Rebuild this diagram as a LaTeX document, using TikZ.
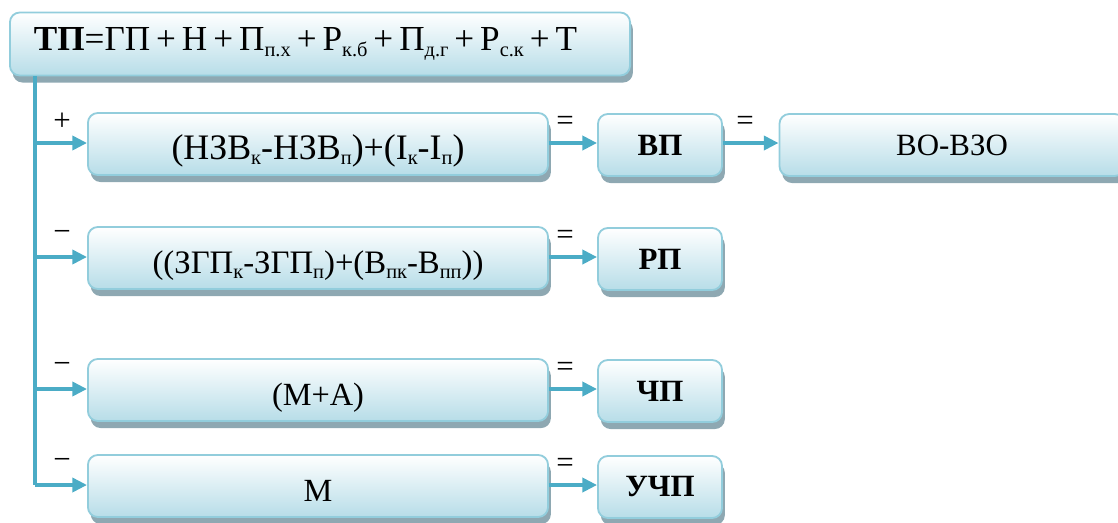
\documentclass[tikz,border=0pt]{standalone}
\usepackage{fontspec}
\setmainfont{Liberation Serif}
\usetikzlibrary{arrows.meta,shadows,positioning}
\definecolor{boxedge}{RGB}{146,205,220}
\definecolor{boxfill}{RGB}{183,221,232}
\definecolor{boxshade}{RGB}{142,168,178}
\definecolor{flowblue}{RGB}{75,172,198}

% small lowered index
\newcommand{\lo}[1]{\raisebox{-0.35ex}{\fontsize{14.5}{15}\selectfont #1}}

\tikzset{
  box/.style={draw=boxedge, line width=1.3pt, rounded corners=7pt,
    top color=white, bottom color=boxfill, minimum height=1.55cm, inner ysep=2pt,
    drop shadow={shadow xshift=2pt, shadow yshift=-5pt, fill=boxshade, opacity=1},
    font=\fontsize{23}{27}\selectfont},
  wide/.style={box, minimum width=11.5cm, text height=25pt, text depth=3.6pt},
  res/.style={box, minimum width=3.1cm, font=\fontsize{22}{26}\selectfont\bfseries},
  flow/.style={flowblue, line width=2.6pt, -{Triangle[length=10.5pt,width=10pt]}},
  trunk/.style={flowblue, line width=2.6pt},
  sign/.style={font=\fontsize{22}{26}\selectfont}
}

\begin{document}
\begin{tikzpicture}[x=0.025cm,y=-0.025cm]
  \useasboundingbox (0,0) rectangle (1118,522);

  % Top formula
  \node[box, minimum width=15.5cm, minimum height=1.575cm, text width=14.3cm,
    align=left, inner xsep=0.6cm, font=\fontsize{25}{29}\selectfont] (tp) at (320,44)
    {\spaceskip=0.17em\relax\textbf{ТП}=ГП + Н + П\lo{п.х} + Р\lo{к.б} + П\lo{д.г} + Р\lo{с.к} + Т};

  % Rows
  \foreach \i/\y/\s/\txt/\r/\fs in {
    1/144/+/{(НЗВ\lo{к}-НЗВ\lo{п})+(I\lo{к}-I\lo{п})}/ВП/25.5,
    2/258/−/{((ЗГП\lo{к}-ЗГП\lo{п})+(В\lo{пк}-В\lo{пп}))}/РП/23.3,
    3/390/−/{(М+А)}/ЧП/23,
    4/486/−/{М}/УЧП/23}
  {
    \coordinate (j\i) at (35,\y-1);
    \node[wide, font=\fontsize{\fs}{28}\selectfont] (row\i) at (318,\y) {\txt};
    \node[res] (res\i) at (660,\y+1) {\r};
    \node[sign] (s\i) at (62,\y-22) {\s};
    \node[sign] (e\i) at (565,\y-21) {=};
    \draw[flow] (j\i) -- (row\i.west |- j\i);
    \draw[flow] (row\i.east |- j\i) -- (res\i.west |- j\i);
  }

  % Last result of the first row
  \node[box, minimum width=8.625cm, font=\fontsize{22}{26}\selectfont] (vo) at (952,145) {ВО-ВЗО};
  \node[sign] (e5) at (745,123) {=};
  \draw[flow] (res1.east |- j1) -- (vo.west |- j1);

  % Trunk
  \draw[trunk] (tp.south -| j1) -- (j4);
\end{tikzpicture}
\end{document}
